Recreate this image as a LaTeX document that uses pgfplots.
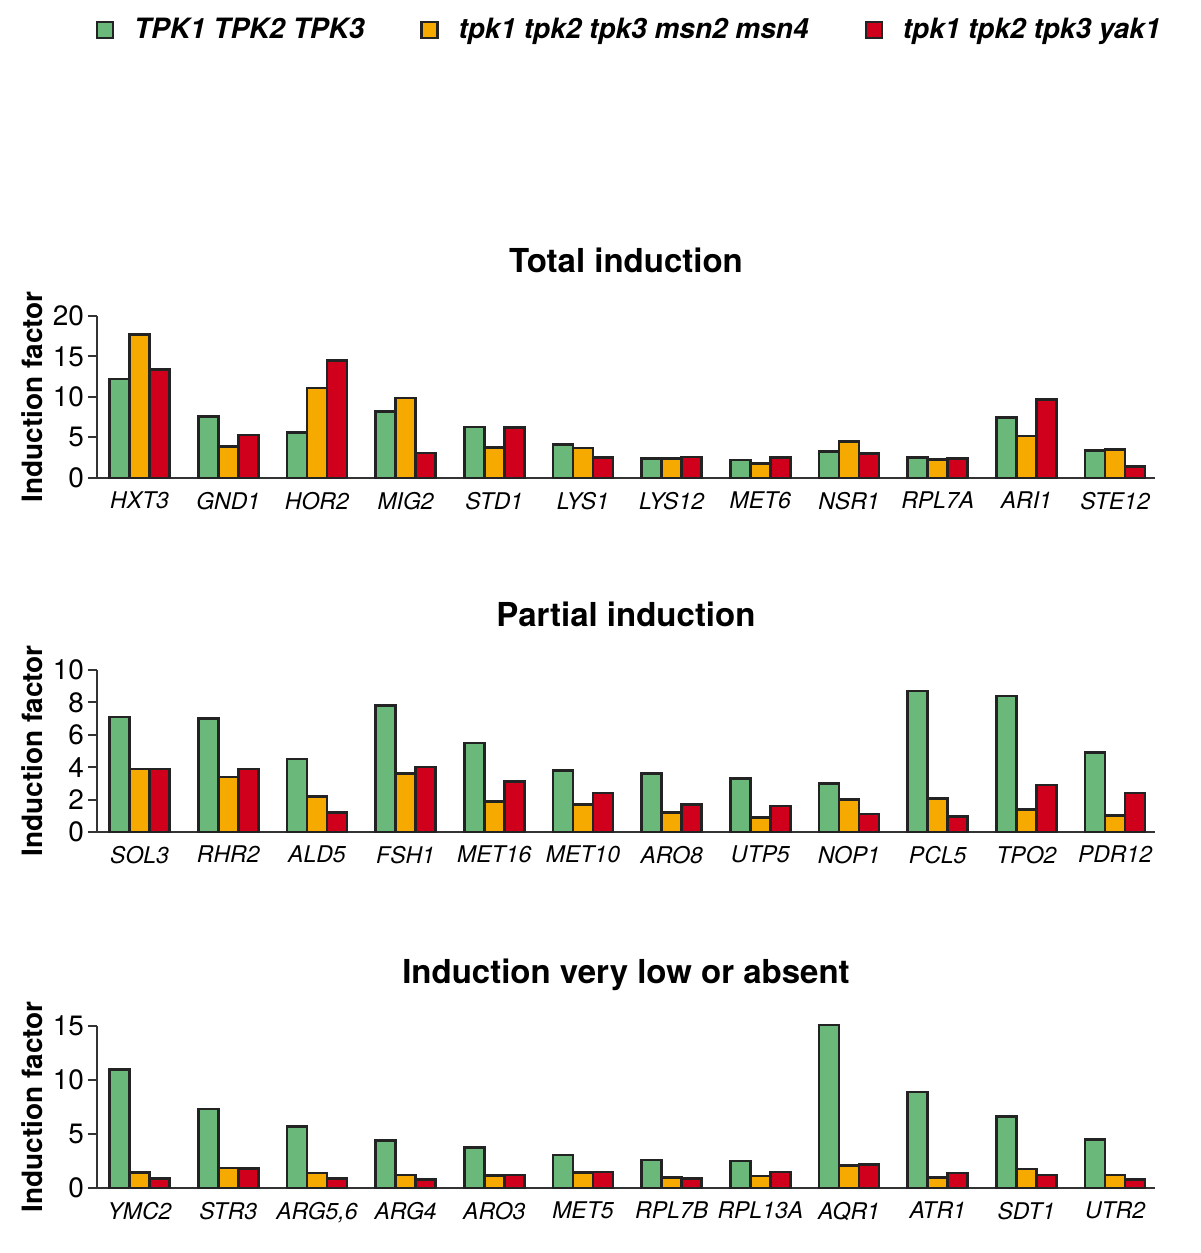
\documentclass[border=0pt]{standalone}
\usepackage{fontspec}
\setmainfont{TeX Gyre Heros}
\usepackage{pgfplots}
\pgfplotsset{compat=1.18}
\definecolor{cgreen}{RGB}{106,184,122}
\definecolor{corange}{RGB}{246,170,0}
\definecolor{cred}{RGB}{208,0,28}
\definecolor{cedge}{RGB}{35,35,35}
\pgfplotsset{
 panel/.style={
   scale only axis, width=529pt, height=81pt,
   xmin=-0.48, xmax=11.45, ymin=0,
   axis x line=bottom, axis y line=left,
   axis line style={-, line width=1pt, draw=black!80},
   ybar=0pt, bar width=10pt,
   xtick={0,...,11}, xtick style={draw=none},
   ytick style={line width=1pt, draw=black!80}, tick align=outside, major tick length=4.5pt,
   tick label style={font=\fontsize{14}{14}\selectfont},
   yticklabel style={xshift=1.5pt},
   xticklabel style={font=\fontsize{11.5}{12}\selectfont\itshape, yshift=1pt},
   /pgf/number format/assume math mode=true,
   ylabel={Induction factor},
   ylabel style={font=\fontsize{14}{14}\selectfont\bfseries, at={(axis description cs:-0.0614,0.5)}, anchor=center},
   title style={font=\fontsize{16.5}{17}\selectfont\bfseries, at={(axis description cs:0.5,1)}, anchor=base, yshift=15.5pt},
   every axis plot/.append style={draw=cedge, line width=1.3pt},
   clip=false,
 }
}
\begin{document}
\begin{tikzpicture}
\path[use as bounding box] (0,0) rectangle (600pt,626.5pt);
% Panel 1
\begin{axis}[panel, at={(48.5pt,387.5pt)}, anchor=south west,
  ymax=20, ytick={0,5,10,15,20},
  title={Total induction},
  xticklabels={HXT3,GND1,HOR2,MIG2,STD1,LYS1,LYS12,MET6,NSR1,RPL7A,ARI1,STE12},
  legend columns=3,
  legend style={at={(0.504,2.765)}, anchor=center, draw=none, fill=none,
    font=\fontsize{14}{14}\selectfont\bfseries\itshape,
    /tikz/every odd column/.append style={column sep=8pt},
    /tikz/every even column/.append style={column sep=26pt}},
  legend image code/.code={\draw[#1,line width=1.1pt] (0pt,-4pt) rectangle (8pt,4pt);},
]
\addplot[fill=cgreen] coordinates {(0,12.2) (1,7.6) (2,5.6) (3,8.2) (4,6.3) (5,4.1) (6,2.4) (7,2.2) (8,3.3) (9,2.5) (10,7.5) (11,3.4)};
\addplot[fill=corange] coordinates {(0,17.7) (1,3.9) (2,11.1) (3,9.9) (4,3.8) (5,3.7) (6,2.4) (7,1.8) (8,4.5) (9,2.3) (10,5.2) (11,3.5)};
\addplot[fill=cred] coordinates {(0,13.4) (1,5.3) (2,14.5) (3,3.1) (4,6.2) (5,2.5) (6,2.6) (7,2.5) (8,3.0) (9,2.4) (10,9.7) (11,1.4)};
\legend{TPK1 TPK2 TPK3, tpk1 tpk2 tpk3 msn2 msn4, tpk1 tpk2 tpk3 yak1}
\end{axis}
% Panel 2
\begin{axis}[panel, at={(48.5pt,210.5pt)}, anchor=south west,
  ymax=10, ytick={0,2,4,6,8,10},
  title={Partial induction},
  xticklabels={SOL3,RHR2,ALD5,FSH1,MET16,MET10,ARO8,UTP5,NOP1,PCL5,TPO2,PDR12},
]
\addplot[fill=cgreen] coordinates {(0,7.1) (1,7.0) (2,4.5) (3,7.8) (4,5.5) (5,3.8) (6,3.6) (7,3.3) (8,3.0) (9,8.7) (10,8.4) (11,4.9)};
\addplot[fill=corange] coordinates {(0,3.9) (1,3.4) (2,2.2) (3,3.6) (4,1.9) (5,1.7) (6,1.2) (7,0.9) (8,2.0) (9,2.05) (10,1.4) (11,1.0)};
\addplot[fill=cred] coordinates {(0,3.9) (1,3.9) (2,1.2) (3,4.0) (4,3.1) (5,2.4) (6,1.7) (7,1.6) (8,1.1) (9,0.95) (10,2.9) (11,2.4)};
\end{axis}
% Panel 3
\begin{axis}[panel, at={(48.5pt,32.5pt)}, anchor=south west,
  ymax=15, ytick={0,5,10,15},
  title={Induction very low or absent},
  xticklabels={YMC2,STR3,{ARG5,6},ARG4,ARO3,MET5,RPL7B,RPL13A,AQR1,ATR1,SDT1,UTR2},
]
\addplot[fill=cgreen] coordinates {(0,11.0) (1,7.3) (2,5.7) (3,4.4) (4,3.75) (5,3.05) (6,2.6) (7,2.5) (8,15.1) (9,8.9) (10,6.6) (11,4.5)};
\addplot[fill=corange] coordinates {(0,1.45) (1,1.85) (2,1.4) (3,1.2) (4,1.17) (5,1.45) (6,1.0) (7,1.1) (8,2.1) (9,1.0) (10,1.75) (11,1.2)};
\addplot[fill=cred] coordinates {(0,0.9) (1,1.8) (2,0.9) (3,0.8) (4,1.2) (5,1.5) (6,0.9) (7,1.5) (8,2.2) (9,1.4) (10,1.2) (11,0.8)};
\end{axis}
\end{tikzpicture}
\end{document}
